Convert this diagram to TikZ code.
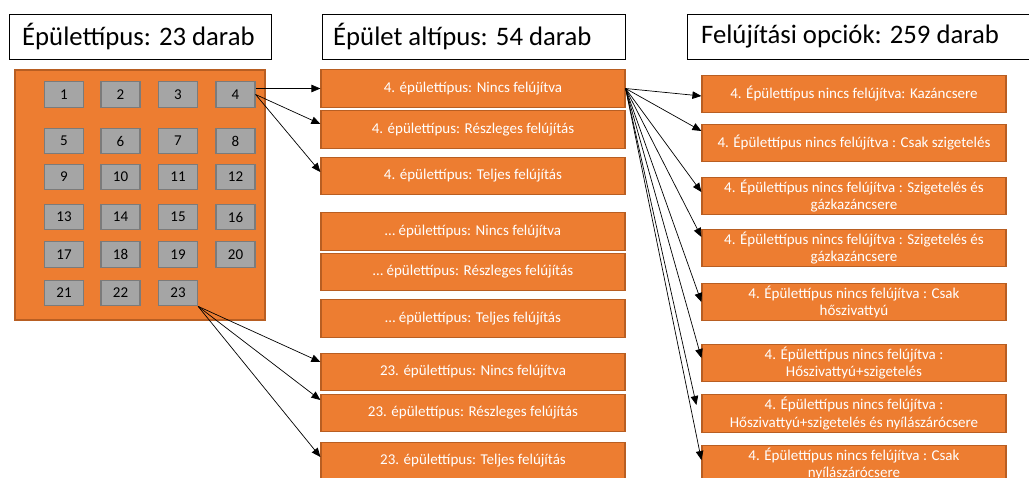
\documentclass[tikz,border=0pt]{standalone}
\usepackage{fontspec}
\setmainfont{Carlito}
\usetikzlibrary{arrows.meta}
\definecolor{orfill}{HTML}{ED7D31}
\definecolor{ordraw}{HTML}{B85E22}
\definecolor{grfill}{HTML}{A5A5A5}
\definecolor{grdraw}{HTML}{7B7B7B}
\tikzset{
  titlebox/.style={draw=black, line width=1.3pt, fill=white, anchor=north west, minimum height=45pt, inner sep=0pt},
  titletext/.style={anchor=west, inner sep=0pt, font=\fontsize{26.7}{32}\selectfont},
  obox/.style={draw=ordraw, fill=orfill, line width=1.2pt, minimum width=304pt, minimum height=37.5pt, inner sep=0pt, text=white, font=\fontsize{15}{17.5}\selectfont, align=center},
  gbox/.style={draw=grdraw, fill=grfill, line width=1.2pt, minimum width=39pt, minimum height=25.5pt, inner sep=0pt, font=\fontsize{15}{18}\selectfont},
  bigbox/.style={draw=ordraw, fill=orfill, line width=1.2pt, minimum width=250pt, minimum height=250pt, inner sep=0pt},
  arr/.style={-{Triangle[length=9pt,width=7.5pt]}, line width=0.7pt, black}
}
\begin{document}
\begin{tikzpicture}[x=1pt,y=-1pt]
\useasboundingbox (0,0) rectangle (1029,477);
\clip (0,0) rectangle (1029,477);
% titles
\node[titlebox, minimum width=262pt] (t1) at (9,14) {};
\node[titletext] (t1t) at (22,36.5) {Épülettípus: 23 darab};
\node[titlebox, minimum width=303pt] (t2) at (322,14) {};
\node[titletext] (t2t) at (333,36.5) {Épület altípus: 54 darab};
\node[titlebox, minimum width=360pt] (t3) at (687,14) {};
\node[titletext] (t3t) at (701,36.5) {Felújítási opciók: 259 darab};
% big box
\node[bigbox] (big) at (140,195) {};
% gray boxes
\foreach \n/\x/\y in {1/64/94.5,2/120.5/94.5,3/178/94.5,4/235.5/94.5,
  5/64/141,6/120.5/141,7/178/141,8/235.5/141,
  9/64/177,10/120.5/177,11/178/177,12/235.5/177,
  13/64/217,14/120.5/217,15/178/217,16/235.5/217,
  17/64/254.5,18/120.5/254.5,19/178/254.5,20/235.5/254.5,
  21/64/293,22/120.5/293,23/178/293}
  \node[gbox] (g\n) at (\x,\y) {\n};
% middle boxes
\node[obox] (m1) at (473,88.5) {4. épülettípus: Nincs felújítva};
\node[obox] (m2) at (473,129.5) {4. épülettípus: Részleges felújítás};
\node[obox] (m3) at (473,176) {4. épülettípus: Teljes felújítás};
\node[obox] (m4) at (473,231.5) {… épülettípus: Nincs felújítva};
\node[obox] (m5) at (473,272) {… épülettípus: Részleges felújítás};
\node[obox] (m6) at (473,318.5) {… épülettípus: Teljes felújítás};
\node[obox] (m7) at (473,372) {23. épülettípus: Nincs felújítva};
\node[obox] (m8) at (473,413) {23. épülettípus: Részleges felújítás};
\node[obox] (m9) at (473,461) {23. épülettípus: Teljes felújítás};
% right boxes
\node[obox] (r1) at (854,94) {4. Épülettípus nincs felújítva: Kazáncsere};
\node[obox] (r2) at (854,143) {4. Épülettípus nincs felújítva : Csak szigetelés};
\node[obox] (r3) at (854,196) {4. Épülettípus nincs felújítva : Szigetelés és\\gázkazáncsere};
\node[obox] (r4) at (854,248) {4. Épülettípus nincs felújítva : Szigetelés és\\gázkazáncsere};
\node[obox] (r5) at (854,302) {4. Épülettípus nincs felújítva : Csak\\hőszivattyú};
\node[obox] (r6) at (854,363) {4. Épülettípus nincs felújítva :\\Hőszivattyú+szigetelés};
\node[obox] (r7) at (854,413.5) {4. Épülettípus nincs felújítva :\\Hőszivattyú+szigetelés és nyílászárócsere};
\node[obox] (r8) at (854,464) {4. Épülettípus nincs felújítva : Csak\\nyílászárócsere};
% arrows from 4
\draw[arr] ([yshift=6pt]g4.east) -- ([yshift=0pt]m1.west);
\draw[arr] (g4.east) -- ([yshift=5.5pt]m2.west);
\draw[arr] (g4.east) -- ([yshift=4pt]m3.west);
% arrows from 23
\draw[arr] (g23.south east) -- ([yshift=10pt]m7.west);
\draw[arr] (g23.south east) -- ([yshift=13pt]m8.west);
\draw[arr] (g23.south east) -- ([yshift=4pt]m9.west);
% arrows from m1
\draw[arr] (m1.east) -- ([yshift=-2pt]r1.west);
\draw[arr] (m1.east) -- ([yshift=12pt]r2.west);
\draw[arr] (m1.east) -- ([yshift=4pt]r3.west);
\draw[arr] (m1.east) -- ([yshift=11pt]r4.west);
\draw[arr] (m1.east) -- (r5.west);
\draw[arr] (m1.east) -- ([yshift=5pt]r6.west);
\draw[arr] (m1.east) -- ([xshift=-5pt,yshift=8.5pt]r7.west);
\draw[arr] (m1.east) -- ([yshift=4pt]r8.west);
\end{tikzpicture}
\end{document}
